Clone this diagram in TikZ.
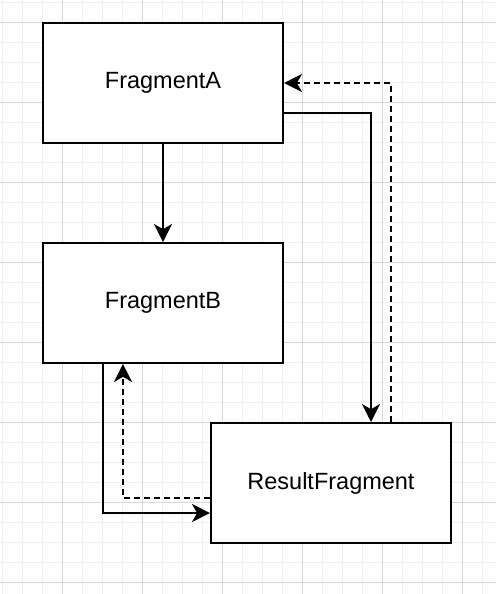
\documentclass[tikz,border=0pt]{standalone}
\usepackage{fontspec}
\setmainfont{Liberation Sans}
\usepackage{tikz}
\usetikzlibrary{positioning,arrows.meta,calc}
\definecolor{gridminor}{RGB}{240,240,240}
\definecolor{gridmajor}{RGB}{214,214,214}
\tikzset{frag/.style = {rectangle,draw,line width=1.4pt,fill=white,minimum width=6cm,minimum height=3cm,font=\fontsize{16.7}{20}\selectfont}}
\tikzset{link/.style = {line width=1.4pt,-{Stealth[length=0.45cm,width=0.45cm,inset=0.13cm]}}}
\tikzset{back/.style = {link,dash pattern=on 0.14cm off 0.11cm}}

\begin{document}
\begin{tikzpicture}[x=0.025cm,y=-0.025cm]
                \useasboundingbox (0,0) rectangle (496,594);
                \fill[white] (0,0) rectangle (496,594);
                \foreach \g in {2,22,...,582} {
                    \draw[gridminor,line width=0.7pt] (\g,0) -- (\g,594);
                    \draw[gridminor,line width=0.7pt] (0,\g) -- (496,\g);
                }
                \foreach \g in {62,142,...,462} \draw[gridmajor,line width=0.7pt] (\g,0) -- (\g,594);
                \foreach \g in {22,102,...,582} \draw[gridmajor,line width=0.7pt] (0,\g) -- (496,\g);
                \node[frag] (A) at (163,83) {FragmentA};
                \node[frag] (B) at (163,303) {FragmentB};
                \node[frag] (R) at (331,483) {ResultFragment};
                \draw[link] (A) -- (B);
                \draw[link] ([yshift=-0.75cm]A.east) -| ([xshift=1cm]R.north);
                \draw[back] ([xshift=1.5cm]R.north) |- (A.east);
                \draw[link] ([xshift=-1.5cm]B.south) |- ([yshift=-0.75cm]R.west);
                \draw[back] ([yshift=-0.375cm]R.west) -| ([xshift=-1cm]B.south);
            \end{tikzpicture}
\end{document}
